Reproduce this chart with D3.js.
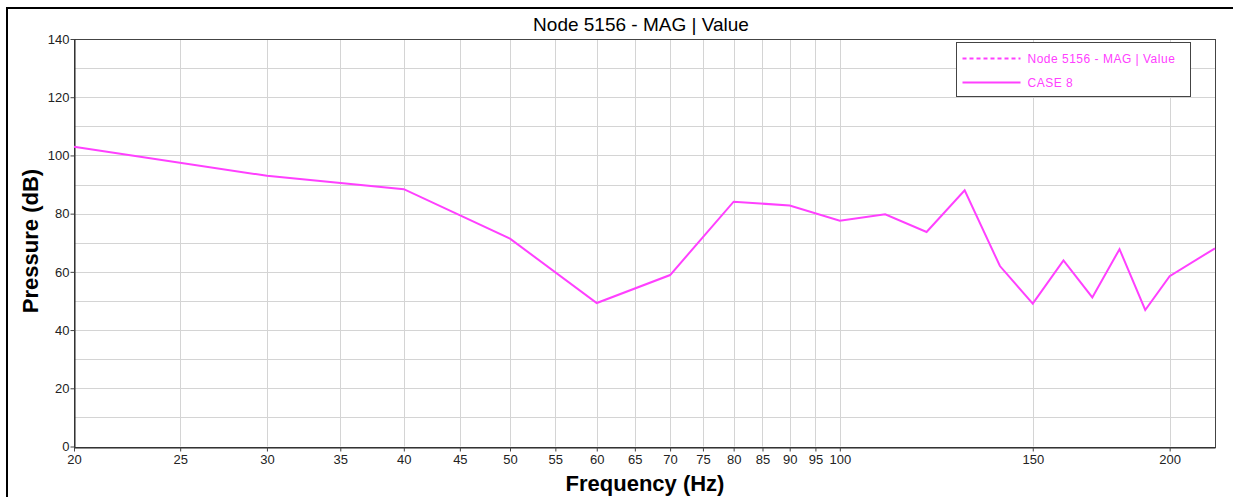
<!DOCTYPE html>
<html>
<head>
<meta charset="utf-8">
<script src="https://cdn.jsdelivr.net/npm/d3@7"></script>
<style>
  body { margin: 0; background: #fff; overflow: hidden; }
  svg { display: block; }
  text { font-family: Arial, "Liberation Sans", sans-serif; }
</style>
</head>
<body>
<svg id="chart"></svg>
<script>
let width = 1233;
let height = 497;
let margin = {
  top: 39,
  right: 18,
  bottom: 50,
  left: 74
}

// data
const freqs = [20, 30, 40, 50, 60, 70, 80, 90, 100, 110, 120, 130, 140, 150, 160, 170, 180, 190, 200, 220];
const pressure = [103, 93, 88.4, 71.4, 49.3, 58.9, 84.1, 82.8, 77.6, 79.8, 73.7, 88, 62, 49.1, 63.9, 51.2, 67.8, 46.9, 58.5, 68.1];
const xTicks = [20, 25, 30, 35, 40, 45, 50, 55, 60, 65, 70, 75, 80, 85, 90, 95, 100, 150, 200];
const yTicks = [0, 20, 40, 60, 80, 100, 120, 140];
const yGrid = [10, 20, 30, 40, 50, 60, 70, 80, 90, 100, 110, 120, 130];
const legendNames = ['Node 5156 - MAG | Value', 'CASE 8'];

const MAGENTA = '#ff40ff';

let svg = d3.select('#chart')
  .attr('width', width)
  .attr('height', height);

let data = freqs.map((f, i) => ({f: f, v: pressure[i]}));

let x = d3.scaleLog()
  .domain([20, 220])
  .range([margin.left, width - margin.right]);

let y = d3.scaleLinear()
  .domain([0, 140])
  .range([height - margin.bottom - 0.5, margin.top]);

// outer frame (right and bottom edges fall outside the picture)
svg.append('rect')
  .attr('x', 7)
  .attr('y', 8)
  .attr('width', width + 40)
  .attr('height', height + 40)
  .attr('fill', 'none')
  .attr('stroke', '#000')
  .attr('stroke-width', 2);

// grid
svg.append('g')
  .selectAll('line')
  .data(xTicks.slice(1))
  .join('line')
    .attr('x1', d => Math.round(x(d)) + 0.5)
    .attr('x2', d => Math.round(x(d)) + 0.5)
    .attr('y1', y(0))
    .attr('y2', y(140))
    .attr('stroke', '#d4d4d4');

svg.append('g')
  .selectAll('line')
  .data(yGrid)
  .join('line')
    .attr('x1', x(20))
    .attr('x2', x(220))
    .attr('y1', d => Math.round(y(d)) + 0.5)
    .attr('y2', d => Math.round(y(d)) + 0.5)
    .attr('stroke', '#d4d4d4');

// plot frame
svg.append('rect')
  .attr('x', Math.round(x(20)) + 0.5)
  .attr('y', Math.round(y(140)) + 0.5)
  .attr('width', Math.round(x(220)) - Math.round(x(20)))
  .attr('height', Math.round(y(0)) - Math.round(y(140)))
  .attr('fill', 'none')
  .attr('stroke', '#444');

// axes
let xAxis = g => g
  .attr('transform', `translate(0,${Math.round(y(0)) + 0.5})`)
  .call(d3.axisBottom(x).tickValues(xTicks).tickFormat(d3.format('d')).tickSize(4).tickSizeOuter(0))
  .call(g => g.select('.domain').attr('stroke', '#222'))
  .call(g => g.selectAll('.tick line').attr('stroke', '#444'))
  .call(g => g.selectAll('.tick text').attr('font-size', 13).attr('fill', '#222').attr('dy', '0.75em'));

let yAxis = g => g
  .attr('transform', `translate(${Math.round(x(20)) + 0.5},0)`)
  .call(d3.axisLeft(y).tickValues(yTicks).tickSize(4).tickSizeOuter(0))
  .call(g => g.select('.domain').attr('stroke', '#222'))
  .call(g => g.selectAll('.tick line').attr('stroke', '#444'))
  .call(g => g.selectAll('.tick text').attr('font-size', 13).attr('fill', '#222').attr('x', -5));

svg.append('g').call(xAxis);
svg.append('g').call(yAxis);

// the curve
let line = d3.line()
  .x(d => x(d.f))
  .y(d => y(d.v));

svg.append('path')
  .datum(data)
  .attr('d', line)
  .attr('fill', 'none')
  .attr('stroke', MAGENTA)
  .attr('stroke-width', 2);

// title and axis labels
svg.append('text')
  .attr('x', 641)
  .attr('y', 31)
  .attr('text-anchor', 'middle')
  .attr('font-size', 19)
  .attr('fill', '#000')
  .text('Node 5156 - MAG | Value');

svg.append('text')
  .attr('x', 645)
  .attr('y', 491)
  .attr('text-anchor', 'middle')
  .attr('font-size', 22)
  .attr('font-weight', 'bold')
  .text('Frequency (Hz)');

svg.append('text')
  .attr('transform', 'translate(38,241) rotate(-90)')
  .attr('text-anchor', 'middle')
  .attr('font-size', 22)
  .attr('font-weight', 'bold')
  .text('Pressure (dB)');

// legend
let legend = svg.append('g').attr('transform', 'translate(956.5,42.5)');

legend.append('rect')
  .attr('width', 234)
  .attr('height', 54)
  .attr('fill', '#fff')
  .attr('stroke', '#444');

legend.selectAll('line')
  .data(legendNames)
  .join('line')
    .attr('x1', 6)
    .attr('x2', 64)
    .attr('y1', (d, i) => 16 + i * 24)
    .attr('y2', (d, i) => 16 + i * 24)
    .attr('stroke', MAGENTA)
    .attr('stroke-width', 2)
    .attr('stroke-dasharray', (d, i) => i === 0 ? '4,3' : null);

legend.selectAll('text')
  .data(legendNames)
  .join('text')
    .attr('x', 71)
    .attr('y', (d, i) => 20 + i * 24)
    .attr('font-size', 12)
    .attr('letter-spacing', 0.5)
    .attr('fill', MAGENTA)
    .text(d => d);
</script>
</body>
</html>
